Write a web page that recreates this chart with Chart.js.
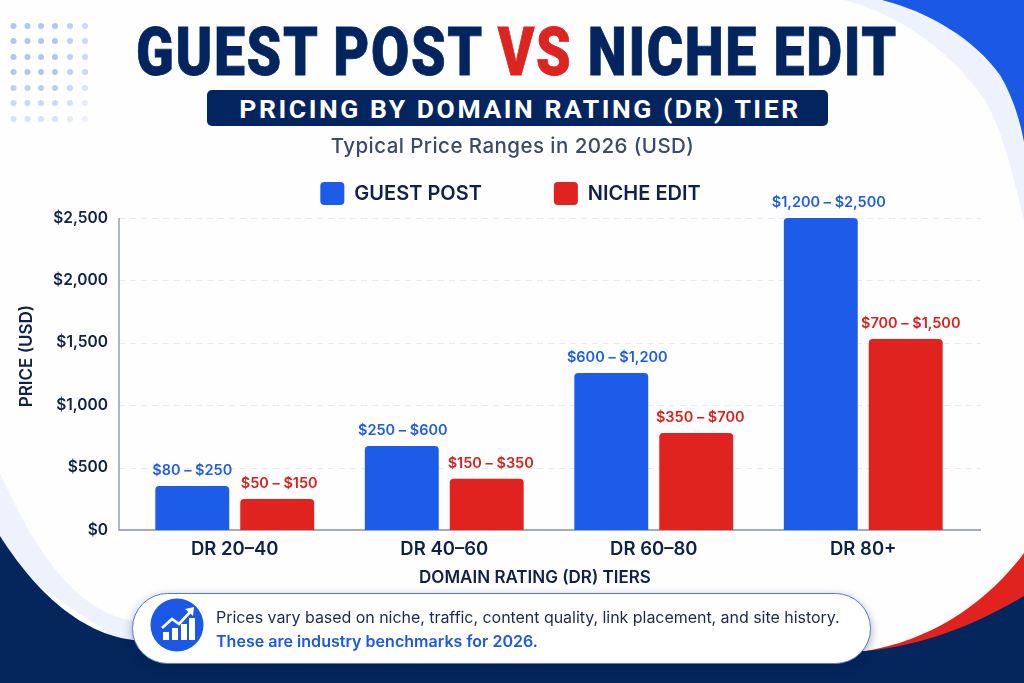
<!DOCTYPE html>
<html><head><meta charset="utf-8">
<script src="https://cdn.jsdelivr.net/npm/chart.js@4/dist/chart.umd.min.js"></script>
<style>
html,body{margin:0;padding:0;background:#fff;overflow:hidden}
#page{position:relative;width:1024px;height:683px;overflow:hidden;background:#fefefe}
#bg,#cv,.t,#pill{position:absolute}
#bg{left:0;top:0}
#cv{left:0;top:0;width:1024px;height:683px}
.t{white-space:nowrap;text-align:center}
#title{left:136px;top:15px;font:900 67.5px Roboto;color:#03255f;letter-spacing:2px;line-height:74px;transform-origin:0 0;-webkit-text-stroke:.8px currentColor}
#title b{color:#dc2420;font-weight:900}
#banner{position:absolute;left:207px;top:90px;width:621px;height:36px;box-sizing:border-box;padding-left:5px;background:#03255f;border-radius:5px;color:#fff;font:700 26.5px Roboto;letter-spacing:2.55px;line-height:37px;text-align:center;white-space:nowrap}
#sub{left:0;top:133px;width:1025px;font:500 20.5px Inter;color:#3b4a6b;letter-spacing:.45px;line-height:26px}
#pill{left:132px;top:593px;width:737px;height:69px;border:1px solid #4f79e6;border-radius:36px;background:#fff;box-shadow:0 3px 10px rgba(2,20,60,.35)}
#p1,#p2{left:216px;font:400 16px Inter;line-height:22px}
#p1{top:606px;color:#1d2a4d;letter-spacing:-.04px}
#p2{top:630px;color:#1c58e6;font-weight:600;letter-spacing:.03px}
</style></head><body>
<div id="page">
<svg id="bg" width="1024" height="683" viewBox="0 0 1024 683">
<path d="M844,0 C900,15 950,50 985,100 C1005,135 1015,185 1024,220 L1024,0Z" fill="#edf2fc"/>
<path d="M882,0 C930,12 975,40 1000,75 C1012,95 1020,120 1024,142 L1024,0Z" fill="#1a58e6"/>
<path d="M0,473 C30,540 70,610 133,621 L133,650 L0,560Z" fill="#edf2fc"/>
<path d="M866,651 C930,640 985,605 1024,553 L1024,610 L866,660Z" fill="#e0231f"/>
<path d="M0,536 C25,575 70,632 133,640 L866,651 C925,645 975,625 1024,596 L1024,683 L0,683Z" fill="#04265c"/>
<g id="dots"></g>
</svg>
<canvas id="cv" width="1024" height="683"></canvas>
<div class="t" id="title">GUEST POST <b>VS</b> NICHE EDIT</div>
<div id="banner">PRICING BY DOMAIN RATING (DR) TIER</div>
<div class="t" id="sub">Typical Price Ranges in 2026 (USD)</div>
<div id="pill"></div>
<svg style="position:absolute;left:150px;top:598px" width="54" height="54" viewBox="0 0 54 54">
<circle cx="27" cy="27" r="26.5" fill="#1c58e6"/>
<g fill="#fff"><rect x="13" y="34" width="6" height="8"/><rect x="22" y="30" width="6" height="12"/><rect x="31" y="26" width="6" height="16"/><rect x="39" y="20" width="6" height="22"/>
<path d="M12,30 L22,21 L29,26 L41,13" fill="none" stroke="#fff" stroke-width="2.6"/><path d="M35,11 L44,9 L43,18Z"/></g>
</svg>
<div class="t" id="p1">Prices vary based on niche, traffic, content quality, link placement, and site history.</div>
<div class="t" id="p2">These are industry benchmarks for 2026.</div>
</div>
<script>
const categories = ["DR 20–40", "DR 40–60", "DR 60–80", "DR 80+"];
const guestPost = [352, 673, 1258, 2500];
const nicheEdit = [248, 410, 777, 1530];
const guestRanges = ["$80 – $250", "$250 – $600", "$600 – $1,200", "$1,200 – $2,500"];
const nicheRanges = ["$50 – $150", "$150 – $350", "$350 – $700", "$700 – $1,500"];
const BLUE = "#1c5ce8", RED = "#e0231f", NAVY = "#0f2149";

const titleEl=document.getElementById("title");
titleEl.style.transform="scaleX("+(762/titleEl.offsetWidth)+")";

// decorative dot grid
const dots = document.getElementById("dots"), xs=[13.5,27.5,41,55,70,85], ys=[26,41,57,72,88,103,119];
ys.forEach((y,r)=>xs.forEach((x,c)=>{
  const e=document.createElementNS("http://www.w3.org/2000/svg","circle");
  e.setAttribute("cx",x);e.setAttribute("cy",y);e.setAttribute("r",3);
  e.setAttribute("fill","#a9c0ee");e.setAttribute("opacity",Math.max(.2,.9-(r>3?(r-3)*.15:0)-(c>3?(c-3)*.15:0)));
  dots.appendChild(e);
}));

const labelShift=[[0,1,6,8],[2,4,4,5]];
const furniture = {
  id:"furniture",
  beforeLayout(chart){
    const lg=chart.legend;
    if(lg&&!lg._wrapped){
      lg._wrapped=true;
      const f=lg.fit;lg.fit=function(){f.call(this);this.height=72+36;};
      const d=lg.draw;lg.draw=function(){const c=this.ctx;c.save();c.translate(18,0);d.call(this);c.restore();};
    }
  },
  afterLayout(chart){
    const {x,y}=chart.scales;
    if(!x._shifted){
      x._shifted=true;
      const xd=x.drawTitle, yd=y.drawTitle;
      x.drawTitle=function(){const c=this.ctx;c.save();c.translate(-14,0);xd.call(this);c.restore();};
      y.drawTitle=function(){const c=this.ctx;c.save();c.translate(0,-18);yd.call(this);c.restore();};
    }
  },
  beforeDatasetsDraw(chart){
    const {ctx,scales:{y}}=chart, L=119, R=981, b=y.getPixelForValue(0), t=y.getPixelForValue(2500);
    ctx.save();
    ctx.strokeStyle="#e6eaf5";ctx.lineWidth=1;ctx.setLineDash([6,5]);
    y.ticks.forEach(k=>{ if(k.value>0){const p=Math.round(y.getPixelForValue(k.value))+.5;ctx.beginPath();ctx.moveTo(L,p);ctx.lineTo(R,p);ctx.stroke();}});
    ctx.setLineDash([]);ctx.strokeStyle="#8790a6";ctx.lineWidth=1.3;
    ctx.beginPath();ctx.moveTo(L,t);ctx.lineTo(L,b);ctx.lineTo(R,b);ctx.stroke();
    ctx.restore();
  },
  afterDatasetsDraw(chart){
    const {ctx}=chart;
    ctx.save();ctx.font='600 14.5px Inter';ctx.textAlign="center";ctx.textBaseline="middle";
    [guestRanges,nicheRanges].forEach((labels,i)=>{
      ctx.fillStyle=i?"#d8201c":BLUE;
      chart.getDatasetMeta(i).data.forEach((bar,j)=>ctx.fillText(labels[j],bar.x+labelShift[i][j],bar.y-15));
    });
    ctx.restore();
  }
};

new Chart(document.getElementById("cv"),{
  type:"bar",
  data:{labels:categories,datasets:[
    {label:"GUEST POST",data:guestPost,backgroundColor:BLUE,borderRadius:4,categoryPercentage:.811,barPercentage:.87},
    {label:"NICHE EDIT",data:nicheEdit,backgroundColor:RED,borderRadius:4,categoryPercentage:.811,barPercentage:.87}
  ]},
  plugins:[furniture],
  options:{
    responsive:false,animation:false,devicePixelRatio:1,
    layout:{padding:{left:17,right:56,top:110,bottom:95}},
    plugins:{
      tooltip:{enabled:false},
      legend:{position:"top",align:"center",labels:{boxWidth:24,boxHeight:23,useBorderRadius:true,borderRadius:4,padding:72,color:NAVY,font:{family:"Inter",size:20,weight:"600"}}}
    },
    scales:{
      x:{grid:{display:false},border:{display:false},
        ticks:{color:NAVY,padding:0,maxRotation:0,font:{family:"Inter",size:18.5,weight:"600"}},
        title:{display:true,text:"DOMAIN RATING (DR) TIERS",color:NAVY,padding:{top:3,bottom:0},font:{family:"Inter",size:17,weight:"600"}},
        afterFit(s){s.height=58;}},
      y:{min:0,max:2500,grid:{display:false},border:{display:false},
        ticks:{stepSize:500,color:NAVY,padding:14,callback:v=>"$"+v.toLocaleString("en-US"),font:{family:"Inter",size:15.5,weight:"600"}},
        title:{display:true,text:"PRICE (USD)",color:NAVY,padding:{top:0,bottom:0},font:{family:"Inter",size:17,weight:"600"}},
        afterFit(s){s.width=113;}}
    }
  }
});
</script>
</body></html>
